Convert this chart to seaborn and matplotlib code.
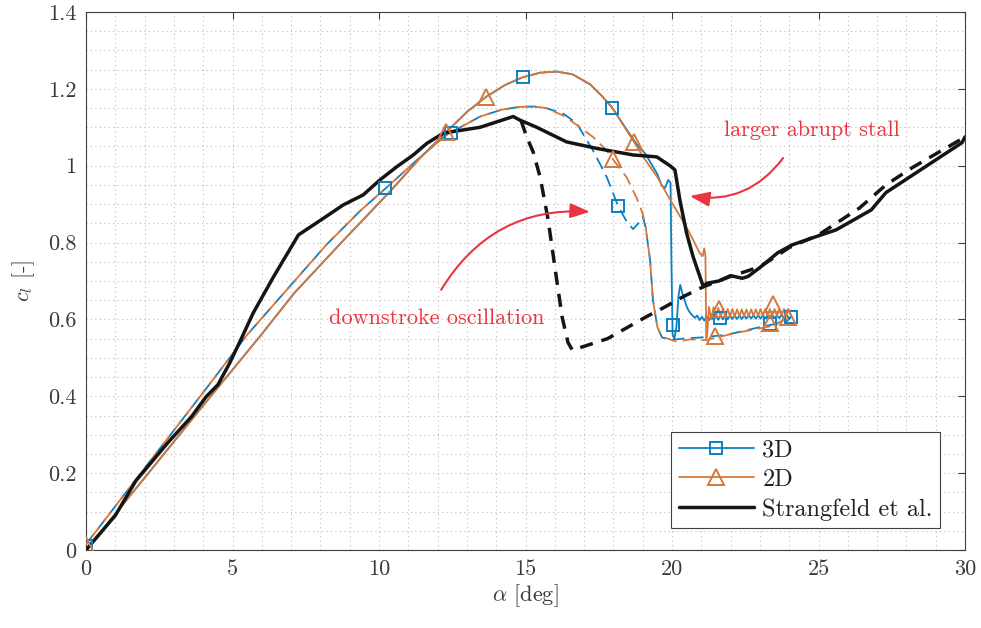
import matplotlib
matplotlib.use("Agg")
import matplotlib.pyplot as plt
import seaborn as sns
from matplotlib.lines import Line2D
from matplotlib.ticker import MultipleLocator

# ---------------------------------------------------------------- data
# attached part of the upstroke (shared by 2D and 3D solid curves)
up_alpha = [0.0, 2.0, 4.0, 6.0, 7.1, 8.8, 10.4, 11.4, 12.3, 13.0, 13.65, 14.3,
            14.9, 15.5, 16.05, 16.6, 17.2, 17.6, 17.95]
up_cl = [0.0, 0.188, 0.376, 0.562, 0.668, 0.807, 0.935, 1.02, 1.088, 1.14, 1.179, 1.21,
         1.23, 1.242, 1.245, 1.238, 1.212, 1.182, 1.152]

# 2D upstroke: stall and post-stall oscillation
up2d_alpha = [18.3, 18.7, 19.0, 19.5, 20.0, 20.3, 20.6, 20.95, 21.05, 21.1, 21.14, 21.17, 21.2,
              21.26, 21.34, 21.42, 21.50, 21.58, 21.66, 21.74, 21.82, 21.90, 21.98, 22.06, 22.14,
              22.22, 22.30, 22.38, 22.46, 22.54, 22.62, 22.70, 22.78, 22.86, 22.94, 23.02, 23.10,
              23.18, 23.26, 23.34, 23.42, 23.50, 23.58, 23.66, 23.74, 23.82, 23.90, 23.98, 24.06]
up2d_cl = [1.11, 1.062, 1.025, 0.97, 0.903, 0.865, 0.825, 0.772, 0.765, 0.785, 0.765, 0.55, 0.56,
           0.633, 0.600, 0.632, 0.605, 0.630, 0.606, 0.628, 0.607, 0.627, 0.608, 0.627, 0.608,
           0.626, 0.609, 0.626, 0.609, 0.626, 0.609, 0.626, 0.610, 0.626, 0.610, 0.627, 0.610,
           0.627, 0.610, 0.627, 0.610, 0.627, 0.610, 0.627, 0.610, 0.627, 0.610, 0.626, 0.610]

# 3D upstroke: stall and post-stall oscillation
up3d_alpha = [18.4, 18.8, 19.1, 19.5, 19.65, 19.76, 19.87, 19.95, 19.98, 20.02, 20.08, 20.15,
              20.22, 20.28, 20.34, 20.41, 20.48, 20.55, 20.62, 20.70, 20.78,
              20.86, 20.94, 21.02, 21.10, 21.18, 21.26, 21.34, 21.42, 21.50, 21.58, 21.66, 21.74,
              21.82, 21.90, 21.98, 22.06, 22.14, 22.22, 22.30, 22.38, 22.46, 22.54, 22.62, 22.70,
              22.78, 22.86, 22.94, 23.02, 23.10, 23.18, 23.26, 23.34, 23.42, 23.50, 23.58, 23.66,
              23.74, 23.82, 23.90, 23.98, 24.06]
up3d_cl = [1.10, 1.055, 1.03, 0.978, 0.948, 0.942, 0.963, 0.955, 0.75, 0.56, 0.55, 0.58,
           0.66, 0.69, 0.672, 0.655, 0.638, 0.625, 0.617, 0.610, 0.604,
           0.610, 0.598, 0.607, 0.597, 0.608, 0.598, 0.607, 0.599, 0.608, 0.599, 0.609, 0.600,
           0.609, 0.600, 0.610, 0.601, 0.610, 0.601, 0.610, 0.601, 0.610, 0.602, 0.611, 0.602,
           0.611, 0.602, 0.611, 0.602, 0.611, 0.602, 0.611, 0.603, 0.611, 0.603, 0.611, 0.603,
           0.612, 0.603, 0.612, 0.604, 0.607]

# attached part of the downstroke (shared by 2D and 3D dashed curves)
dn_alpha = [0.0, 2.0, 4.0, 5.5, 6.85, 8.2, 9.35, 10.4, 11.4, 12.3, 13.45, 14.2, 14.8, 15.3, 15.7]
dn_cl = [0.015, 0.213, 0.41, 0.56, 0.677, 0.794, 0.882, 0.953, 1.022, 1.08, 1.128, 1.146,
         1.153, 1.154, 1.15]

# 2D downstroke: separated branch
dn2d_alpha = [16.3, 16.75, 17.3, 17.77, 18.0, 18.45, 18.8, 19.0, 19.1, 19.25, 19.35, 19.5,
              19.66, 20.17, 20.6, 21.18, 21.5, 22.4, 23.35, 24.0]
dn2d_cl = [1.13, 1.106, 1.075, 1.04, 1.015, 0.97, 0.915, 0.875, 0.84, 0.755, 0.65, 0.58,
           0.555, 0.542, 0.548, 0.546, 0.553, 0.568, 0.582, 0.605]

# 3D downstroke: separated branch with the reattachment oscillation
dn3d_alpha = [16.3, 16.75, 17.3, 17.77, 18.16, 18.45, 18.67, 18.85, 19.0, 19.1, 19.25, 19.35,
              19.5, 19.66, 20.0, 20.5, 21.0, 21.87, 23.0, 23.9, 24.05]
dn3d_cl = [1.135, 1.11, 1.04, 0.971, 0.895, 0.855, 0.835, 0.85, 0.868, 0.84, 0.755, 0.65,
           0.58, 0.553, 0.547, 0.551, 0.553, 0.56, 0.58, 0.594, 0.605]

# Strangfeld et al. measurements, upstroke
exp_up_alpha = [0.0, 1.0, 1.7, 2.8, 3.6, 4.1, 4.5, 4.9, 5.3, 5.7, 6.4, 7.25, 8.1, 8.78, 9.46,
                10.03, 10.6, 11.17, 11.63, 12.2, 13.45, 14.58, 14.8, 15.38, 16.4, 17.43, 18.67,
                19.48, 19.93, 20.1, 20.27, 20.5, 20.72, 21.07, 21.18, 21.6, 22.0, 22.4, 22.6,
                23.0, 23.6, 24.1, 24.9, 25.6, 26.8, 27.3, 28.5, 29.1, 29.9, 30.0]
exp_up_cl = [0.0, 0.09, 0.18, 0.28, 0.347, 0.399, 0.43, 0.486, 0.55, 0.616, 0.711, 0.82, 0.863,
             0.898, 0.924, 0.963, 0.997, 1.028, 1.058, 1.085, 1.10, 1.128, 1.119, 1.10, 1.062,
             1.045, 1.028, 1.023, 1.0, 0.989, 0.91, 0.824, 0.763, 0.685, 0.694, 0.70, 0.714,
             0.707, 0.712, 0.735, 0.773, 0.794, 0.815, 0.833, 0.885, 0.93, 0.99, 1.02, 1.06, 1.075]

# Strangfeld et al. measurements, downstroke
exp_dn_alpha = [14.85, 15.04, 15.26, 15.5, 15.77, 16.07, 16.25, 16.45, 16.6, 17.8, 19.1, 19.7,
                20.4, 21.07, 22.0, 23.0, 24.0, 25.0, 25.6, 26.4, 27.3, 28.2, 29.1, 29.9, 30.0]
exp_dn_cl = [1.117, 1.075, 1.036, 0.97, 0.86, 0.70, 0.606, 0.54, 0.52, 0.55, 0.606, 0.63,
             0.66, 0.685, 0.712, 0.737, 0.787, 0.82, 0.85, 0.89, 0.95, 0.995, 1.035, 1.07, 1.085]

# marker positions
sq_alpha = [0.0, 10.2, 12.45, 14.9, 17.95, 18.16, 20.05, 21.65, 23.35, 24.05]
sq_cl = [0.01, 0.941, 1.085, 1.23, 1.15, 0.895, 0.585, 0.603, 0.588, 0.607]
tri_alpha = [0.0, 12.3, 13.65, 18.0, 18.7, 21.45, 21.6, 23.45, 23.35, 23.96]
tri_cl = [0.012, 1.087, 1.179, 1.017, 1.063, 0.556, 0.626, 0.64, 0.59, 0.607]

x_ticks = [0, 5, 10, 15, 20, 25, 30]
y_ticks = [0, 0.2, 0.4, 0.6, 0.8, 1.0, 1.2, 1.4]
y_tick_labels = ["0", "0.2", "0.4", "0.6", "0.8", "1", "1.2", "1.4"]

series_labels = ["3D", "2D", "Strangfeld et al."]

# ---------------------------------------------------------------- style
BLUE = "#0a80c4"
ORANGE = "#d4783c"
BLACK = "#151515"
RED = "#ea3440"

sns.set_theme(style="white")
plt.rcParams["font.family"] = ["cmr10", "DejaVu Serif"]
plt.rcParams["mathtext.fontset"] = "cm"
plt.rcParams["axes.formatter.use_mathtext"] = True
plt.rcParams["axes.unicode_minus"] = False

fig = plt.figure(figsize=(9.81, 6.28), dpi=100)
ax = fig.add_axes([0.0877, 0.1242, 0.8960, 0.8567])


def curve(x, y, color, lw, style=None, z=3):
    sns.lineplot(x=x, y=y, ax=ax, color=color, linewidth=lw, sort=False,
                 estimator=None, legend=False, zorder=z)
    line = ax.lines[-1]
    if style is not None:
        line.set_linestyle(style)
    line.set_dash_capstyle("butt")
    line.set_solid_joinstyle("round")
    return line


# downstroke (dashed): 3D below, 2D on top with shifted dashes
curve(dn_alpha + dn3d_alpha, dn_cl + dn3d_cl, BLUE, 1.3, (0, (7.0, 3.6)), z=3)
curve(dn_alpha + dn2d_alpha, dn_cl + dn2d_cl, ORANGE, 1.3, (5.3, (7.0, 3.6)), z=3.1)

# upstroke (solid)
curve(up_alpha + up3d_alpha, up_cl + up3d_cl, BLUE, 1.3, z=3.2)
curve(up_alpha + up2d_alpha, up_cl + up2d_cl, ORANGE, 1.3, z=3.3)

# experiment
curve(exp_dn_alpha, exp_dn_cl, BLACK, 2.5, (0, (3.8, 2.6)), z=4)
curve(exp_up_alpha, exp_up_cl, BLACK, 2.5, z=4.1)

# markers
sns.lineplot(x=sq_alpha, y=sq_cl, ax=ax, color=BLUE, linestyle="none", marker="s",
             markersize=9, markerfacecolor="none", markeredgecolor=BLUE,
             markeredgewidth=1.4, sort=False, estimator=None, legend=False, zorder=5)
sns.lineplot(x=tri_alpha, y=tri_cl, ax=ax, color=ORANGE, linestyle="none", marker="^",
             markersize=12, markerfacecolor="none", markeredgecolor=ORANGE,
             markeredgewidth=1.4, sort=False, estimator=None, legend=False, zorder=5.1)

# ---------------------------------------------------------------- axes
ax.set_xlim(0, 30)
ax.set_ylim(0, 1.4)
ax.set_xticks(x_ticks, [str(v) for v in x_ticks])
ax.set_yticks(y_ticks, y_tick_labels)
ax.xaxis.set_minor_locator(MultipleLocator(1))
ax.yaxis.set_minor_locator(MultipleLocator(0.05))

grid_kw = dict(color="#bdbdbd", linestyle=(0, (1, 3)), linewidth=0.8)
ax.grid(True, which="major", **grid_kw)
ax.grid(True, which="minor", **grid_kw)
ax.set_axisbelow(True)

ax.tick_params(which="major", direction="in", length=5, width=0.8, color="#404040",
               top=True, right=True, labelsize=16, labelcolor="#3a3a3a", pad=7)
ax.tick_params(which="minor", length=0, top=True, right=True)
for sp in ax.spines.values():
    sp.set_color("#404040")
    sp.set_linewidth(0.8)

ax.set_xlabel(r"$\alpha$ [deg]", fontsize=16, color="#3a3a3a", labelpad=2)
ax.set_ylabel(r"$c_l$ [-]", fontsize=16, color="#3a3a3a", labelpad=8)

# ---------------------------------------------------------------- annotations
arrow_kw = dict(arrowstyle="-|>,head_length=0.8,head_width=0.3", color=RED, lw=1.5,
                connectionstyle="arc3,rad=-0.3", shrinkA=0, shrinkB=0,
                mutation_scale=15)
ax.text(24.78, 1.093, "larger abrupt stall", color=RED, fontsize=16,
        ha="center", va="center", zorder=6)
ax.annotate("", xy=(20.61, 0.921), xytext=(23.79, 1.02), arrowprops=arrow_kw, zorder=6)
ax.text(11.98, 0.604, "downstroke oscillation", color=RED, fontsize=16,
        ha="center", va="center", zorder=6)
ax.annotate("", xy=(17.2, 0.88), xytext=(12.12, 0.677), arrowprops=arrow_kw, zorder=6)

# ---------------------------------------------------------------- legend
handles = [
    Line2D([], [], color=BLUE, lw=1.3, marker="s", markersize=9,
           markerfacecolor="none", markeredgecolor=BLUE, markeredgewidth=1.4),
    Line2D([], [], color=ORANGE, lw=1.3, marker="^", markersize=12,
           markerfacecolor="none", markeredgecolor=ORANGE, markeredgewidth=1.4),
    Line2D([], [], color=BLACK, lw=2.5),
]
leg = ax.legend(handles, series_labels, loc="lower right",
                bbox_to_anchor=(0.9716, 0.0409), fontsize=17.5, frameon=True,
                fancybox=False, framealpha=1, edgecolor="#404040",
                handlelength=3.1, handletextpad=0.35, labelspacing=0.3,
                borderpad=0.3, borderaxespad=0)
leg.get_frame().set_linewidth(0.8)
for t in leg.get_texts():
    t.set_color("#202020")

fig.savefig("out.png", dpi=100)
